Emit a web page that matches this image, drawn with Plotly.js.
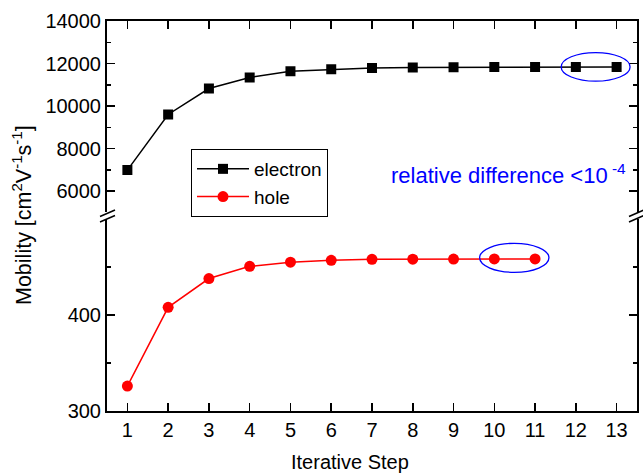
<!DOCTYPE html>
<html>
<head>
<meta charset="utf-8">
<script src="https://cdn.plot.ly/plotly-3.0.1.min.js"></script>
<style>html,body{margin:0;padding:0;background:#fff;}#chart{width:643px;height:474px;}</style>
</head>
<body>
<div id="chart"></div>
<script>
// Data
const electronSteps = [1, 2, 3, 4, 5, 6, 7, 8, 9, 10, 11, 12, 13];
const electronMobility = [6990, 9606, 10826, 11343, 11638, 11732, 11793, 11815, 11825, 11832, 11836, 11838, 11840];
const holeSteps = [1, 2, 3, 4, 5, 6, 7, 8, 9, 10, 11];
const holeMobility = [326, 408, 438, 450.7, 455, 457, 458, 458.2, 458.3, 458.4, 458.4];
const xTicks = [1, 2, 3, 4, 5, 6, 7, 8, 9, 10, 11, 12, 13];
const upperTicks = [6000, 8000, 10000, 12000, 14000];
const upperTickText = ['6000', '8000', '10000', '12000', '14000'];
const upperMinor = [5000, 7000, 9000, 11000, 13000];
const lowerTicks = [300, 400];
const lowerTickText = ['300', '400'];
const lowerMinor = [350, 450];
const seriesNames = ['electron', 'hole'];

const FONT = 'Liberation Sans, Arial, sans-serif';
const FS = 20;

const traces = [
  {
    x: electronSteps, y: electronMobility, name: seriesNames[0],
    xaxis: 'x2', yaxis: 'y2', type: 'scatter', mode: 'lines+markers',
    line: {color: '#000000', width: 1.5},
    marker: {symbol: 'square', size: 10, color: '#000000'}
  },
  {
    x: holeSteps, y: holeMobility, name: seriesNames[1],
    xaxis: 'x', yaxis: 'y', type: 'scatter', mode: 'lines+markers',
    line: {color: '#FF0000', width: 1.5},
    marker: {symbol: 'circle', size: 11, color: '#FF0000'}
  }
];

const axCommon = {
  showgrid: false, zeroline: false, showline: true, linecolor: '#000', linewidth: 2,
  ticks: 'inside', ticklen: 8, tickwidth: 1.5, tickcolor: '#000',
  tickfont: {family: FONT, size: FS, color: '#000'}
};

const lowTop = 0.4923, upBot = 0.5092;

function px2paperX(px) { return (px - 107) / 530; }
function px2paperY(py) { return (411 - py) / 390; }

const breakShapes = [];
[[100, 115], [629, 644]].forEach(function (xs) {
  breakShapes.push({type: 'line', xref: 'paper', yref: 'paper',
    x0: px2paperX(xs[0]), y0: px2paperY(216.5), x1: px2paperX(xs[1]), y1: px2paperY(210),
    line: {color: '#000', width: 1.5}});
  breakShapes.push({type: 'line', xref: 'paper', yref: 'paper',
    x0: px2paperX(xs[0]), y0: px2paperY(222), x1: px2paperX(xs[1]), y1: px2paperY(215.5),
    line: {color: '#000', width: 1.5}});
});

const layout = {
  width: 643, height: 474,
  margin: {l: 107, r: 6, t: 21, b: 63},
  paper_bgcolor: '#fff', plot_bgcolor: '#fff',
  showlegend: true,
  font: {family: FONT, size: FS, color: '#000'},
  xaxis: Object.assign({}, axCommon, {
    range: [0.5, 13.5], domain: [0, 1], anchor: 'y',
    tickmode: 'array', tickvals: xTicks
  }),
  xaxis2: Object.assign({}, axCommon, {
    range: [0.5, 13.5], domain: [0, 1], anchor: 'y2', side: 'top',
    tickmode: 'array', tickvals: xTicks, showticklabels: false
  }),
  yaxis: Object.assign({}, axCommon, {
    range: [300, 500], domain: [0, lowTop], anchor: 'x', mirror: 'ticks',
    tickmode: 'array', tickvals: lowerTicks, ticktext: lowerTickText,
    minor: {tickmode: 'array', tickvals: lowerMinor, ticks: 'inside', ticklen: 4, tickwidth: 1.5, tickcolor: '#000'}
  }),
  yaxis2: Object.assign({}, axCommon, {
    range: [5000, 14000], domain: [upBot, 1], anchor: 'x2', mirror: 'ticks',
    tickmode: 'array', tickvals: upperTicks, ticktext: upperTickText,
    minor: {tickmode: 'array', tickvals: upperMinor, ticks: 'inside', ticklen: 4, tickwidth: 1.5, tickcolor: '#000'}
  }),
  legend: {
    x: px2paperX(191), y: px2paperY(149), xanchor: 'left', yanchor: 'top',
    bordercolor: '#000', borderwidth: 1, bgcolor: '#fff',
    font: {family: FONT, size: 19, color: '#000'},
    itemwidth: 52, tracegroupgap: 0
  },
  shapes: breakShapes.concat([
    {type: 'circle', xref: 'x2', yref: 'y2', x0: 11.64, x1: 13.33, y0: 11169, y1: 12516,
     line: {color: '#0000FF', width: 1.3}},
    {type: 'circle', xref: 'x', yref: 'y', x0: 9.64, x1: 11.34, y0: 444.5, y1: 474.7,
     line: {color: '#0000FF', width: 1.3}}
  ]),
  annotations: [
    {text: 'relative difference &lt;10<sup> -4</sup>', xref: 'paper', yref: 'paper',
     x: px2paperX(389), y: px2paperY(174), xanchor: 'left', yanchor: 'middle', showarrow: false,
     font: {family: FONT, size: 22, color: '#0000FF'}},
    {text: 'Mobility [cm<sup>2</sup>V<sup>-1</sup>s<sup>-1</sup>]', xref: 'paper', yref: 'paper',
     x: px2paperX(22), y: px2paperY(215), xanchor: 'center', yanchor: 'middle', textangle: -90,
     showarrow: false, font: {family: FONT, size: 21.5, color: '#000'}},
    {text: 'Iterative Step', xref: 'paper', yref: 'paper',
     x: px2paperX(350), y: px2paperY(462), xanchor: 'center', yanchor: 'middle',
     showarrow: false, font: {family: FONT, size: 20, color: '#000'}}
  ]
};

Plotly.newPlot('chart', traces, layout, {displayModeBar: false, staticPlot: true});
</script>
</body>
</html>
